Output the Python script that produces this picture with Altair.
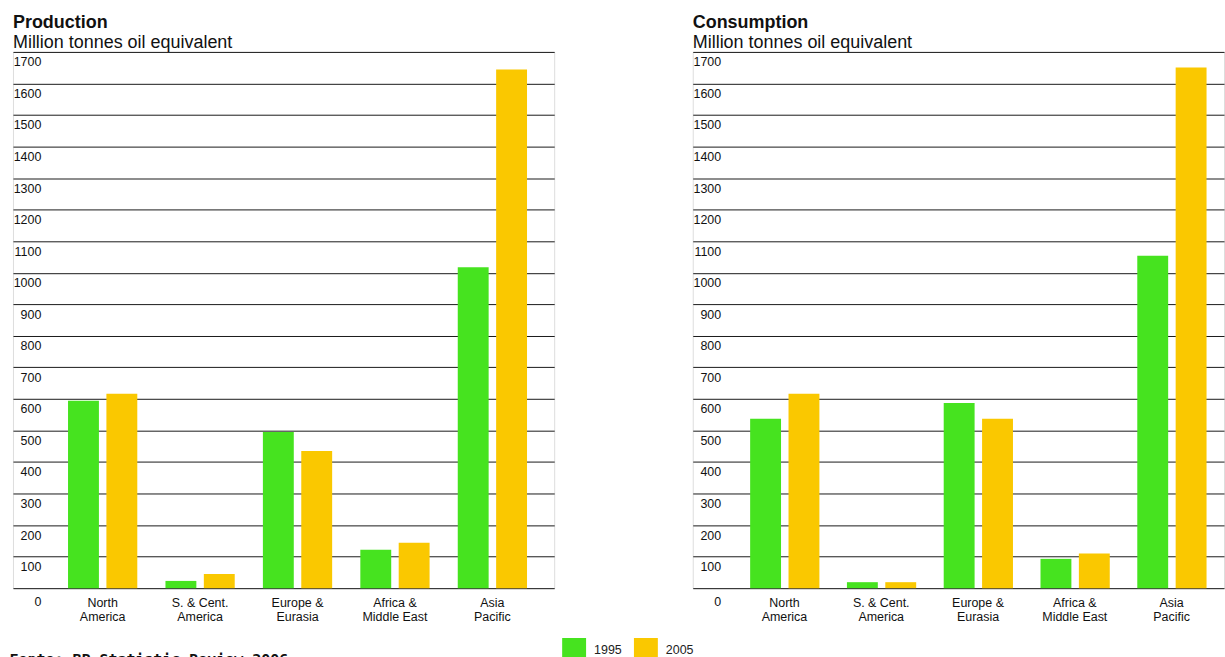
import altair as alt
import pandas as pd

# Regions, each split over two label lines
region_lines = [
    ["North", "America"],
    ["S. & Cent.", "America"],
    ["Europe &", "Eurasia"],
    ["Africa &", "Middle East"],
    ["Asia", "Pacific"],
]
years = ["1995", "2005"]

# Million tonnes oil equivalent
production_1995 = [594, 23, 495, 122, 1017]
production_2005 = [616, 45, 435, 144, 1644]
consumption_1995 = [537, 19, 587, 93, 1054]
consumption_2005 = [616, 19, 537, 110, 1651]

y_ticks = list(range(0, 1800, 100))
year_colors = ["#46E31F", "#FAC800"]

regions = ["\n".join(lines) for lines in region_lines]


def table(values_1995, values_2005):
    rows = []
    for region, a, b in zip(regions, values_1995, values_2005):
        rows.append({"region": region, "year": "1995", "value": a})
        rows.append({"region": region, "year": "2005", "value": b})
    return pd.DataFrame(rows)


def panel(df, title, width, pad_outer, align, footer):
    x_axis = dict(
        labelExpr="split(datum.label, '\\n')",
        labelAngle=0,
        domain=False,
        ticks=False,
        tickSize=0,
        grid=False,
        labelPadding=8,
        labelBaseline="top",
        labelFontSize=12.5,
        labelLineHeight=14,
        labelColor="#111111",
    )
    if footer:
        x_axis.update(
            title=footer,
            titleAnchor="start",
            titleAlign="left",
            titleBaseline="top",
            titleX=-4,
            titleY=64,
            titleFont="DejaVu Sans Mono",
            titleFontSize=15,
            titleFontWeight="bold",
            titleColor="#111111",
        )
    else:
        x_axis.update(title=None)

    return (
        alt.Chart(df)
        .mark_bar()
        .encode(
            x=alt.X(
                "region:N",
                sort=regions,
                scale=alt.Scale(paddingInner=0, paddingOuter=pad_outer, align=align),
                axis=alt.Axis(**x_axis),
            ),
            xOffset=alt.XOffset(
                "year:N",
                sort=years,
                scale=alt.Scale(paddingInner=0.195, paddingOuter=0.367),
            ),
            y=alt.Y(
                "value:Q",
                scale=alt.Scale(domain=[0, 1700], nice=False),
                axis=alt.Axis(
                    title=None,
                    values=y_ticks,
                    format="d",
                    grid=True,
                    gridColor="#1a1a1a",
                    gridWidth=1,
                    domain=False,
                    ticks=False,
                    tickSize=0,
                    labelAlign="right",
                    labelBaseline="top",
                    labelPadding=-28,
                    labelOffset={"condition": {"test": "datum.value === 0", "value": 7}, "value": 4},
                    labelFontSize=12.5,
                    labelColor="#111111",
                ),
            ),
            color=alt.Color(
                "year:N",
                sort=years,
                scale=alt.Scale(domain=years, range=year_colors),
                legend=alt.Legend(
                    title=None,
                    orient="none",
                    direction="horizontal",
                    legendX=551,
                    legendY=588,
                    padding=0,
                    symbolType="square",
                    symbolSize=576,
                    symbolStrokeWidth=0,
                    symbolOpacity=1,
                    labelFontSize=12.5,
                    labelColor="#222222",
                    labelOffset=8,
                    columnPadding=12,
                ),
            ),
        )
        .properties(
            width=width,
            height=538,
            title=alt.TitleParams(
                text=title,
                subtitle="Million tonnes oil equivalent",
                anchor="start",
                frame="group",
                font="Liberation Sans",
                fontSize=18,
                fontWeight="bold",
                color="#111111",
                subtitleFont="Liberation Sans",
                subtitleFontSize=18,
                subtitleColor="#111111",
                subtitlePadding=2,
                offset=0,
            ),
        )
    )


production = panel(
    table(production_1995, production_2005), "Production", 543, 0.2775, 0.758,
    "Fonte: BP Statistic Review 2006",
)
consumption = panel(
    table(consumption_1995, consumption_2005), "Consumption", 533, 0.2446, 0.915, None
)

chart = (
    alt.hconcat(production, consumption, spacing=137)
    .properties(padding={"left": 8, "top": 12, "right": 0, "bottom": 0})
    .configure_view(stroke="transparent", strokeWidth=0)
    .configure_axis(
        domain=False,
        domainColor="transparent",
        domainWidth=0,
        ticks=False,
        tickColor="transparent",
        tickWidth=0,
    )
    .configure(font="Liberation Sans")
)

chart.save("out.html", embed_options={"renderer": "svg", "actions": False})
